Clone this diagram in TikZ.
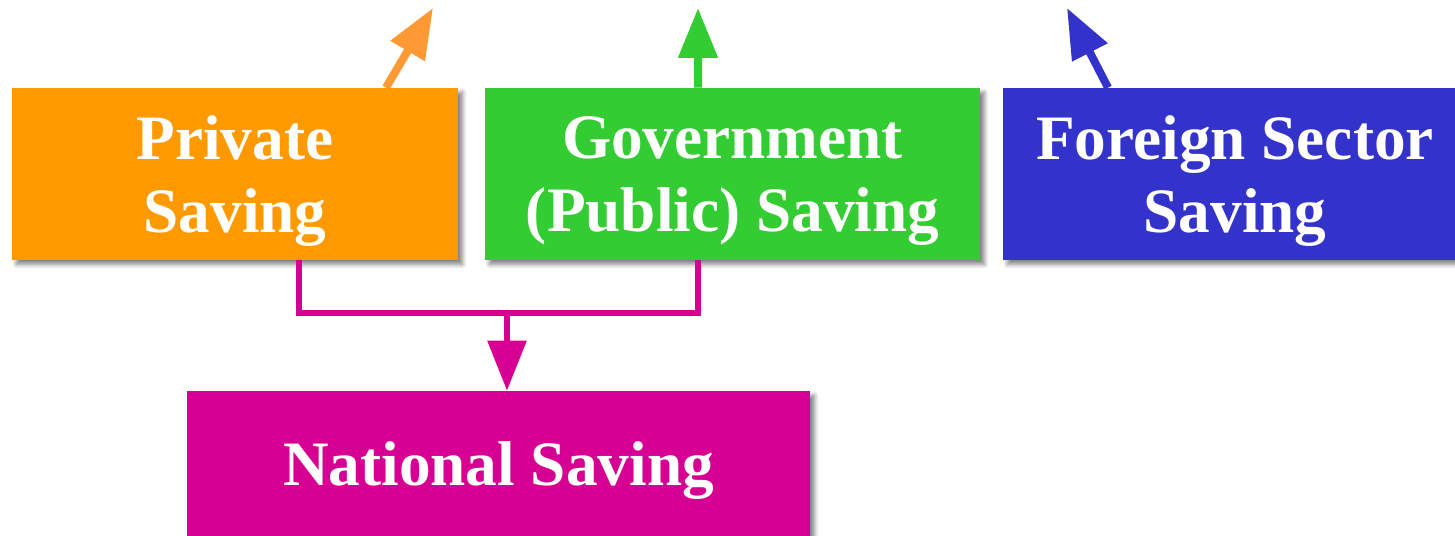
\documentclass[tikz,border=0pt]{standalone}
\usepackage{fontspec}
\setmainfont{Liberation Serif}
\usetikzlibrary{positioning,arrows.meta,calc,shadows.blur}
\definecolor{SavOrange}{RGB}{255,153,0}
\definecolor{SavOrangeLt}{RGB}{255,153,51}
\definecolor{SavGreen}{RGB}{51,204,51}
\definecolor{SavBlue}{RGB}{51,51,204}
\definecolor{SavMagenta}{RGB}{214,0,147}

\begin{document}
\begin{tikzpicture}[x=1cm,y=1cm,
  every node/.style={font=\fontsize{36}{42}\selectfont\bfseries, align=center, text=white},
  savbox/.style={minimum height=3.44cm, inner sep=0pt, text depth=0pt,
    blur shadow={shadow xshift=2.5pt, shadow yshift=-2.5pt, shadow blur steps=6, shadow blur radius=2.5pt, shadow opacity=50}},
  up/.style={-{Triangle[length=1cm,width=0.76cm]}, line width=0.16cm},
  link/.style={line width=0.12cm, SavMagenta}]
  \useasboundingbox (0,0) rectangle (29.1,10.72);

  \node[savbox, fill=SavOrange, minimum width=8.92cm] (priv) at (4.70,7.24) {Private\\Saving};
  \node[savbox, fill=SavGreen, minimum width=9.9cm] (gov) at (14.65,7.24) {Government\\(Public) Saving};
  \node[savbox, fill=SavBlue, minimum width=9.28cm] (forn) at (24.70,7.24) {Foreign Sector\\Saving};
  \node[savbox, fill=SavMagenta, minimum width=12.46cm, minimum height=2.9cm] (nat) at (9.97,1.45) {National Saving};

  \coordinate (privtip) at (8.66,10.56);
  \coordinate (govtip) at (13.96,10.56);
  \coordinate (forntip) at (21.34,10.56);
  \coordinate (join) at (10.14,4.46);

  \draw[up, SavOrangeLt] ([xshift=3.02cm]priv.north) -- (privtip);
  \draw[up, SavGreen] ([xshift=-0.69cm]gov.north) -- (govtip);
  \draw[up, SavBlue] ([xshift=-2.54cm]forn.north) -- (forntip);

  \draw[link] ([xshift=1.28cm]priv.south) |- (join) -| ([xshift=-0.69cm]gov.south);
  \draw[link, -{Triangle[length=1cm,width=0.76cm]}] (join) -- (join |- nat.north);
\end{tikzpicture}
\end{document}
